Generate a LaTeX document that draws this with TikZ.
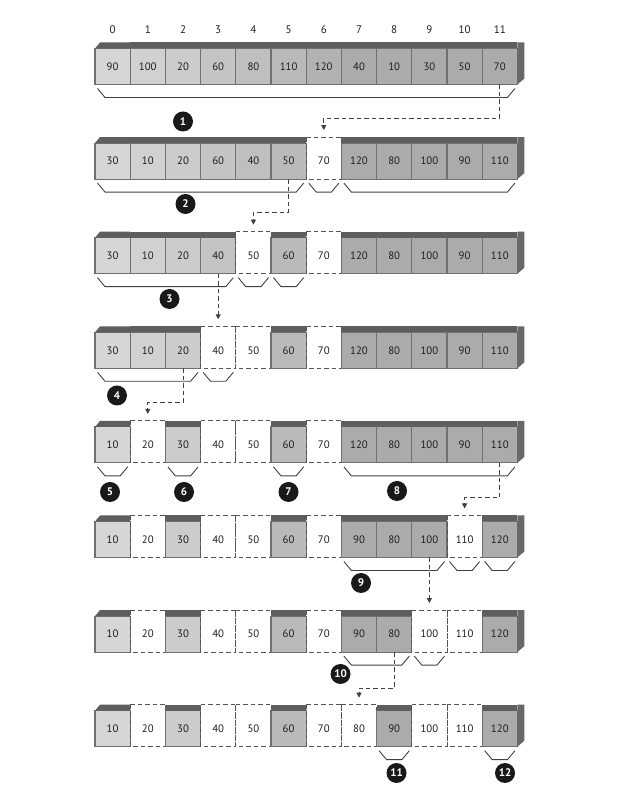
\documentclass[tikz,border=0pt]{standalone}
\usepackage{fontspec}
\setmainfont{PT Sans}
\usetikzlibrary{arrows.meta, calc, positioning}

\definecolor{bandgray}{RGB}{94,94,94}
\definecolor{sidegray}{RGB}{104,104,104}
\definecolor{edgegray}{RGB}{112,112,112}
\definecolor{dashgray}{RGB}{85,85,85}
\definecolor{numgray}{RGB}{30,30,30}

\tikzset{
  cellbox/.style={minimum width=35.2pt, minimum height=36pt, inner sep=0pt, outer sep=0pt,
    text=numgray, font=\fontsize{10.8}{12}\selectfont},
  fullcell/.style={cellbox, draw=edgegray, line width=1.1pt},
  emptycell/.style={cellbox},
  emptyline/.style={dashgray, line width=1pt, dash pattern=on 4.5pt off 3pt},
  pivotline/.style={black!75, line width=1pt, dash pattern=on 4.5pt off 3pt,
    -{Triangle[length=5pt,width=5pt]}},
  bracket/.style={black!75, line width=0.9pt},
  stepnum/.style={circle, fill=black!90, text=white, minimum size=20pt, inner sep=0pt,
    font=\bfseries\fontsize{11}{12}\selectfont},
  idx/.style={text=numgray, font=\fontsize{11}{12}\selectfont}
}

% bracket under the cells #1 ... #2
\newcommand{\groupbrace}[2]{%
  \draw[bracket] ($(#1.south west)+(2.5,-4)$) -- ($(#1.south west)+(10,-13)$)
    -- ($(#2.south east)+(-10,-13)$) -- ($(#2.south east)+(-2.5,-4)$);}

\begin{document}
\begin{tikzpicture}[x=1pt, y=1pt]
  \useasboundingbox (0,0) rectangle (616,789);

  % Indices
  \foreach \i in {0,...,11}
    \node[idx] (i\i) at ({112.6+35.2*\i},759) {\i};

  % Rows of the array (s = in place, d = taken out)
  \foreach \r/\row in {
    1/{90/s,100/s,20/s,60/s,80/s,110/s,120/s,40/s,10/s,30/s,50/s,70/s},
    2/{30/s,10/s,20/s,60/s,40/s,50/s,70/d,120/s,80/s,100/s,90/s,110/s},
    3/{30/s,10/s,20/s,40/s,50/d,60/s,70/d,120/s,80/s,100/s,90/s,110/s},
    4/{30/s,10/s,20/s,40/d,50/d,60/s,70/d,120/s,80/s,100/s,90/s,110/s},
    5/{10/s,20/d,30/s,40/d,50/d,60/s,70/d,120/s,80/s,100/s,90/s,110/s},
    6/{10/s,20/d,30/s,40/d,50/d,60/s,70/d,90/s,80/s,100/s,110/d,120/s},
    7/{10/s,20/d,30/s,40/d,50/d,60/s,70/d,90/s,80/s,100/d,110/d,120/s},
    8/{10/s,20/d,30/s,40/d,50/d,60/s,70/d,80/d,90/s,100/d,110/d,120/s}}{
    \foreach \v/\t [count=\c from 0] in \row {
      \pgfmathsetmacro\xc{112.6+35.2*\c}
      \pgfmathsetmacro\yc{722.5-94.6*(\r-1)}
      \pgfmathtruncatemacro\sh{\c<7 ? 16+2.4*\c : 33}
      \if\t s
        \node[fullcell, fill=black!\sh!white] (r\r-\c) at (\xc,\yc) {\v};
        \ifnum\c=0
          \fill[bandgray] (r\r-\c.north west) -- ++(5,6) -| (r\r-\c.north east) -- cycle;
        \else
          \fill[bandgray] (r\r-\c.north west) rectangle ++(35.2,6);
        \fi
        \ifnum\c=11
          \fill[sidegray] ($(r\r-\c.north east)+(0,6)$) -- ++(7,0)
            -- ($(r\r-\c.south east)+(7,6)$) -- (r\r-\c.south east) -- cycle;
        \fi
      \else
        \node[emptycell] (r\r-\c) at (\xc,\yc) {\v};
        \draw[emptyline] ($(r\r-\c.north west)+(0,6)$) rectangle (r\r-\c.south east);
      \fi
    }
  }

  % Brackets
  \groupbrace{r1-0}{r1-11}
  \groupbrace{r2-0}{r2-5}
  \groupbrace{r2-6}{r2-6}
  \groupbrace{r2-7}{r2-11}
  \groupbrace{r3-0}{r3-3}
  \groupbrace{r3-4}{r3-4}
  \groupbrace{r3-5}{r3-5}
  \groupbrace{r4-0}{r4-2}
  \groupbrace{r4-3}{r4-3}
  \groupbrace{r5-0}{r5-0}
  \groupbrace{r5-2}{r5-2}
  \groupbrace{r5-5}{r5-5}
  \groupbrace{r5-7}{r5-11}
  \groupbrace{r6-7}{r6-9}
  \groupbrace{r6-10}{r6-10}
  \groupbrace{r6-11}{r6-11}
  \groupbrace{r7-7}{r7-8}
  \groupbrace{r7-9}{r7-9}
  \groupbrace{r8-8}{r8-8}
  \groupbrace{r8-11}{r8-11}

  % Pivot moves
  \draw[pivotline] (r1-11.south) -- ++(0,-34) -| ($(r2-6.north)+(0,13)$);
  \draw[pivotline] (r2-5.south) -- ++(0,-33) -| ($(r3-4.north)+(0,13)$);
  \draw[pivotline] (r3-3.south) -- ($(r4-3.north)+(0,13)$);
  \draw[pivotline] (r4-2.south) -- ++(0,-34) -| ($(r5-1.north)+(0,13)$);
  \draw[pivotline] (r5-11.south) -- ++(0,-35) -| ($(r6-10.north)+(0,13)$);
  \draw[pivotline] (r6-9.south) -- ($(r7-9.north)+(0,13)$);
  \draw[pivotline] (r7-8.south) -- ++(0,-36) -| ($(r8-7.north)+(0,13)$);

  % Steps
  \node[stepnum] (s1) at (183,667.5) {1};
  \node[stepnum] (s2) at (185.5,585) {2};
  \node[stepnum] (s3) at (169.5,490) {3};
  \node[stepnum] (s4) at (117,393.5) {4};
  \node[stepnum] (s5) at (110,297) {5};
  \node[stepnum] (s6) at (184,297) {6};
  \node[stepnum] (s7) at (288.5,297) {7};
  \node[stepnum] (s8) at (397,298) {8};
  \node[stepnum] (s9) at (361,206) {9};
  \node[stepnum] (s10) at (340.5,115) {10};
  \node[stepnum] (s11) at (396.5,16) {11};
  \node[stepnum] (s12) at (505,16) {12};
\end{tikzpicture}
\end{document}
